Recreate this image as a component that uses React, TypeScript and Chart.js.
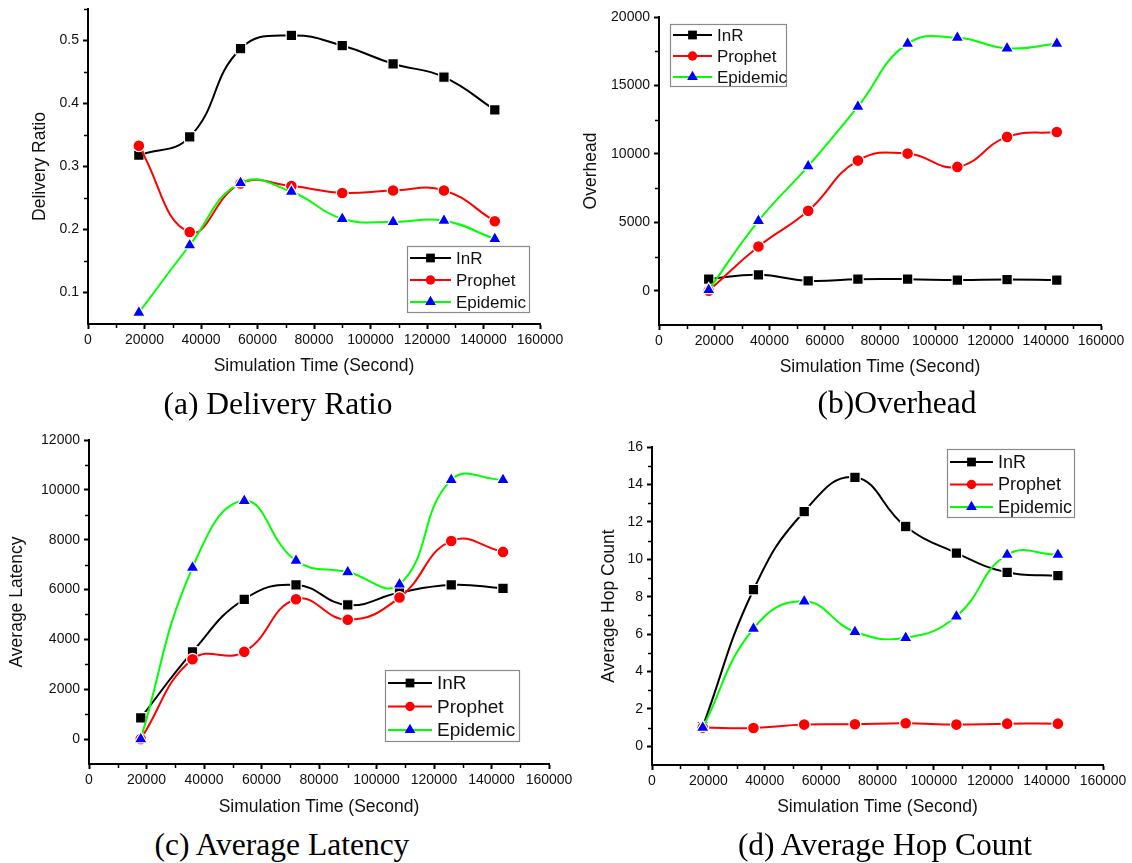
import React, { useEffect, useRef } from "react";
import { Chart, registerables } from "chart.js";

Chart.register(...registerables);

// ---------- data ----------
const timeX = [18000, 36000, 54000, 72000, 90000, 108000, 126000, 144000];
const xTickValues = [0, 20000, 40000, 60000, 80000, 100000, 120000, 140000, 160000];
const seriesNames = ["InR", "Prophet", "Epidemic"];

const deliveryInR = [0.318, 0.347, 0.487, 0.508, 0.492, 0.463, 0.442, 0.39];
const deliveryProphet = [0.333, 0.196, 0.273, 0.269, 0.258, 0.262, 0.262, 0.213];
const deliveryEpidemic = [0.068, 0.175, 0.274, 0.26, 0.217, 0.212, 0.214, 0.185];
const deliveryTicks = [0.1, 0.2, 0.3, 0.4, 0.5];

const overheadInR = [850, 1170, 730, 850, 850, 780, 820, 780];
const overheadProphet = [0, 3230, 5840, 9510, 10020, 9050, 11240, 11600];
const overheadEpidemic = [60, 5110, 9100, 13450, 18050, 18490, 17710, 18050];
const overheadTicks = [0, 5000, 10000, 15000, 20000];

const latencyInR = [855, 3500, 5610, 6185, 5380, 5880, 6185, 6050];
const latencyProphet = [0, 3200, 3500, 5610, 4790, 5680, 7950, 7510];
const latencyEpidemic = [0, 6880, 9560, 7160, 6700, 6210, 10400, 10400];
const latencyTicks = [0, 2000, 4000, 6000, 8000, 10000, 12000];

const hopInR = [1.05, 8.37, 12.55, 14.38, 11.75, 10.33, 9.3, 9.12];
const hopProphet = [1.0, 0.98, 1.16, 1.18, 1.23, 1.16, 1.21, 1.21];
const hopEpidemic = [1.0, 6.29, 7.75, 6.12, 5.8, 6.95, 10.24, 10.24];
const hopTicks = [0, 2, 4, 6, 8, 10, 12, 14, 16];

// ---------- styles ----------
const SANS = '"Liberation Sans", Arial, sans-serif';
const SERIF = '"Liberation Serif", "Times New Roman", serif';
const TEXT = "#111";
const seriesStyles = [
  { line: "#000000", fill: "#000000", style: "rect", radius: 7.4, order: 3 },
  { line: "#ff0000", fill: "#ff0000", style: "circle", radius: 5.9, order: 2 },
  { line: "#00ff00", fill: "#0000ff", style: "triangle", radius: 7.4, order: 1 },
];

type LegendSpec = { x: number; y: number; w: number; h: number; row0: number; gap: number; font: number; lineLen: number };
type PanelSpec = {
  left: number; top: number; w: number; h: number;
  plot: { l: number; t: number; r: number; b: number };
  yTitle: string; yTitleX: number;
  yMin: number; yMax: number; yTicks: number[]; yMinor: number;
  values: number[][];
  legend: LegendSpec;
  caption: string; capX: number; capY: number; capSize: number;
};

const panels: PanelSpec[] = [
  {
    left: 0, top: 0, w: 566, h: 377,
    plot: { l: 88, t: 9, r: 540, b: 324 },
    yTitle: "Delivery Ratio", yTitleX: 40,
    yMin: 0.05, yMax: 0.55, yTicks: deliveryTicks, yMinor: 0.05,
    values: [deliveryInR, deliveryProphet, deliveryEpidemic],
    legend: { x: 407, y: 246, w: 122, h: 66, row0: 12, gap: 22, font: 17, lineLen: 41 },
    caption: "(a) Delivery Ratio", capX: 278, capY: 404, capSize: 31.5,
  },
  {
    left: 566, top: 0, w: 566, h: 378,
    plot: { l: 659, t: 17, r: 1101, b: 325 },
    yTitle: "Overhead", yTitleX: 591,
    yMin: -2500, yMax: 20000, yTicks: overheadTicks, yMinor: 2500,
    values: [overheadInR, overheadProphet, overheadEpidemic],
    legend: { x: 670, y: 24, w: 116, h: 62, row0: 11, gap: 21, font: 17, lineLen: 39 },
    caption: "(b)Overhead", capX: 897, capY: 403, capSize: 31.5,
  },
  {
    left: 0, top: 420, w: 590, h: 398,
    plot: { l: 89, t: 440, r: 549, b: 764 },
    yTitle: "Average Latency", yTitleX: 17,
    yMin: -1000, yMax: 12000, yTicks: latencyTicks, yMinor: 1000,
    values: [latencyInR, latencyProphet, latencyEpidemic],
    legend: { x: 385, y: 670, w: 134, h: 71, row0: 13, gap: 23.5, font: 19, lineLen: 44 },
    caption: "(c) Average Latency", capX: 282, capY: 845, capSize: 31.5,
  },
  {
    left: 566, top: 420, w: 566, h: 398,
    plot: { l: 652, t: 447, r: 1103, b: 765 },
    yTitle: "Average Hop Count", yTitleX: 609,
    yMin: -1, yMax: 16, yTicks: hopTicks, yMinor: 1,
    values: [hopInR, hopProphet, hopEpidemic],
    legend: { x: 947, y: 449, w: 127, h: 68, row0: 13, gap: 22.5, font: 18, lineLen: 43 },
    caption: "(d) Average Hop Count", capX: 885, capY: 845, capSize: 31.5,
  },
];

function fmt(v: number) {
  return String(+Number(v).toFixed(6));
}

function drawMarker(ctx: CanvasRenderingContext2D, style: string, x: number, y: number, r: number) {
  ctx.beginPath();
  if (style === "rect") {
    const s = Math.SQRT1_2 * r;
    ctx.rect(x - s, y - s, 2 * s, 2 * s);
  } else if (style === "circle") {
    ctx.arc(x, y, r, 0, Math.PI * 2);
  } else {
    let rad = 0;
    ctx.moveTo(x + Math.sin(rad) * r, y - Math.cos(rad) * r);
    rad += (2 * Math.PI) / 3;
    ctx.lineTo(x + Math.sin(rad) * r, y - Math.cos(rad) * r);
    rad += (2 * Math.PI) / 3;
    ctx.lineTo(x + Math.sin(rad) * r, y - Math.cos(rad) * r);
    ctx.closePath();
  }
  ctx.fill();
}

const axisDecor = {
  id: "axisDecor",
  afterDraw(chart: any, _args: any, opts: any) {
    const ctx: CanvasRenderingContext2D = chart.ctx;
    const xs = chart.scales.x;
    const ys = chart.scales.y;
    ctx.save();
    ctx.strokeStyle = "#000";
    ctx.lineWidth = 1.5;
    ctx.beginPath();
    const nx = Math.round((xs.max - xs.min) / opts.xMinor);
    for (let i = 0; i <= nx; i++) {
      const v = xs.min + i * opts.xMinor;
      if (i % 2 === 0) continue;
      const px = Math.round(xs.getPixelForValue(v)) + 0.5;
      ctx.moveTo(px, xs.top);
      ctx.lineTo(px, xs.top + 4);
    }
    const ny = Math.round((ys.max - ys.min) / opts.yMinor);
    for (let i = 0; i <= ny; i++) {
      const v = ys.min + i * opts.yMinor;
      const isMajor = opts.yMajor.some((m: number) => Math.abs(m - v) < opts.yMinor * 0.01);
      if (isMajor || i === 0) continue;
      const py = Math.round(ys.getPixelForValue(v)) + 0.5;
      ctx.moveTo(ys.right, py);
      ctx.lineTo(ys.right - 4, py);
    }
    ctx.stroke();
    ctx.restore();
  },
};

const boxLegend = {
  id: "boxLegend",
  afterDraw(chart: any, _args: any, opts: any) {
    const ctx: CanvasRenderingContext2D = chart.ctx;
    const L: LegendSpec = opts.spec;
    const x = L.x - opts.offX;
    const y = L.y - opts.offY;
    ctx.save();
    ctx.fillStyle = "#fff";
    ctx.fillRect(x, y, L.w, L.h);
    ctx.strokeStyle = "#8a8a8a";
    ctx.lineWidth = 1.2;
    ctx.strokeRect(x + 0.5, y + 0.5, L.w, L.h);
    chart.data.datasets.forEach((ds: any, i: number) => {
      const st = seriesStyles[i];
      const ry = y + L.row0 + i * L.gap;
      ctx.strokeStyle = st.line;
      ctx.lineWidth = 2;
      ctx.beginPath();
      ctx.moveTo(x + 3, ry);
      ctx.lineTo(x + 3 + L.lineLen, ry);
      ctx.stroke();
      ctx.fillStyle = st.fill;
      drawMarker(ctx, st.style, x + 3 + L.lineLen / 2, ry, st.radius - 1.2);
      ctx.fillStyle = TEXT;
      ctx.font = `${L.font}px ${SANS}`;
      ctx.textBaseline = "middle";
      ctx.textAlign = "left";
      ctx.fillText(ds.label, x + 3 + L.lineLen + 5, ry + 1);
    });
    ctx.restore();
  },
};

function Panel({ spec }: { spec: PanelSpec }) {
  const ref = useRef<HTMLCanvasElement>(null);
  useEffect(() => {
    const p = spec.plot;
    const tickFont = { family: SANS, size: 14 };
    const titleFont = { family: SANS, size: 17.5 };
    const titleLine = 17.5 * 1.2;
    const chart = new Chart(ref.current as HTMLCanvasElement, {
      type: "line",
      data: {
        datasets: spec.values.map((vals, i) => ({
          label: seriesNames[i],
          data: timeX.map((t, j) => ({ x: t, y: vals[j] })),
          borderColor: seriesStyles[i].line,
          backgroundColor: seriesStyles[i].fill,
          pointBackgroundColor: seriesStyles[i].fill,
          pointBorderColor: "#ffffff",
          pointBorderWidth: 1.2,
          pointStyle: seriesStyles[i].style as any,
          pointRadius: seriesStyles[i].radius,
          borderWidth: 2,
          tension: 0.45,
          fill: false,
          order: seriesStyles[i].order,
        })),
      },
      options: {
        responsive: false,
        animation: false,
        devicePixelRatio: 1,
        layout: {
          padding: { left: 0, top: p.t - spec.top, right: spec.left + spec.w - p.r, bottom: 0 },
        },
        plugins: {
          legend: { display: false },
          tooltip: { enabled: false },
          axisDecor: { xMinor: 10000, yMinor: spec.yMinor, yMajor: spec.yTicks },
          boxLegend: { spec: spec.legend, offX: spec.left, offY: spec.top },
        } as any,
        scales: {
          x: {
            type: "linear",
            min: 0,
            max: 160000,
            afterBuildTicks: (s: any) => {
              s.ticks = xTickValues.map((v) => ({ value: v }));
            },
            afterFit: (s: any) => {
              s.height = spec.top + spec.h - p.b;
              s.paddingLeft = 0;
              s.paddingRight = 0;
            },
            ticks: { font: tickFont, color: TEXT, padding: 3, maxRotation: 0, autoSkip: false, callback: (v: any) => fmt(v) },
            grid: { drawOnChartArea: false, tickLength: 5, tickWidth: 2, tickColor: "#000" },
            border: { color: "#000", width: 2 },
            title: { display: true, text: "Simulation Time (Second)", font: titleFont, color: TEXT, padding: 0 },
          },
          y: {
            type: "linear",
            min: spec.yMin,
            max: spec.yMax,
            afterBuildTicks: (s: any) => {
              s.ticks = spec.yTicks.map((v) => ({ value: v }));
            },
            afterFit: (s: any) => {
              s.width = p.l - spec.left;
              s.paddingTop = 0;
              s.paddingBottom = 0;
            },
            ticks: { font: tickFont, color: TEXT, padding: 4, autoSkip: false, callback: (v: any) => fmt(v) },
            grid: { drawOnChartArea: false, tickLength: 5, tickWidth: 2, tickColor: "#000" },
            border: { color: "#000", width: 2 },
            title: {
              display: true,
              text: spec.yTitle,
              font: titleFont,
              color: TEXT,
              padding: { top: spec.yTitleX - spec.left - titleLine / 2, bottom: 0 },
            },
          },
        },
      },
      plugins: [axisDecor, boxLegend],
    } as any);
    return () => chart.destroy();
  }, [spec]);
  return (
    <canvas
      ref={ref}
      width={spec.w}
      height={spec.h}
      style={{ position: "absolute", left: spec.left, top: spec.top, width: spec.w, height: spec.h }}
    />
  );
}

export default function App() {
  return (
    <div style={{ position: "absolute", left: 0, top: 0, width: 1132, height: 863, background: "#fff", overflow: "hidden" }}>
      {panels.map((s, i) => (
        <Panel key={i} spec={s} />
      ))}
      {panels.map((s, i) => (
        <div
          key={"c" + i}
          style={{
            position: "absolute",
            left: s.capX - 250,
            width: 500,
            top: s.capY - s.capSize * 0.6,
            textAlign: "center",
            fontFamily: SERIF,
            fontSize: s.capSize,
            lineHeight: `${s.capSize * 1.2}px`,
            color: "#000",
            whiteSpace: "nowrap",
          }}
        >
          {s.caption}
        </div>
      ))}
    </div>
  );
}
